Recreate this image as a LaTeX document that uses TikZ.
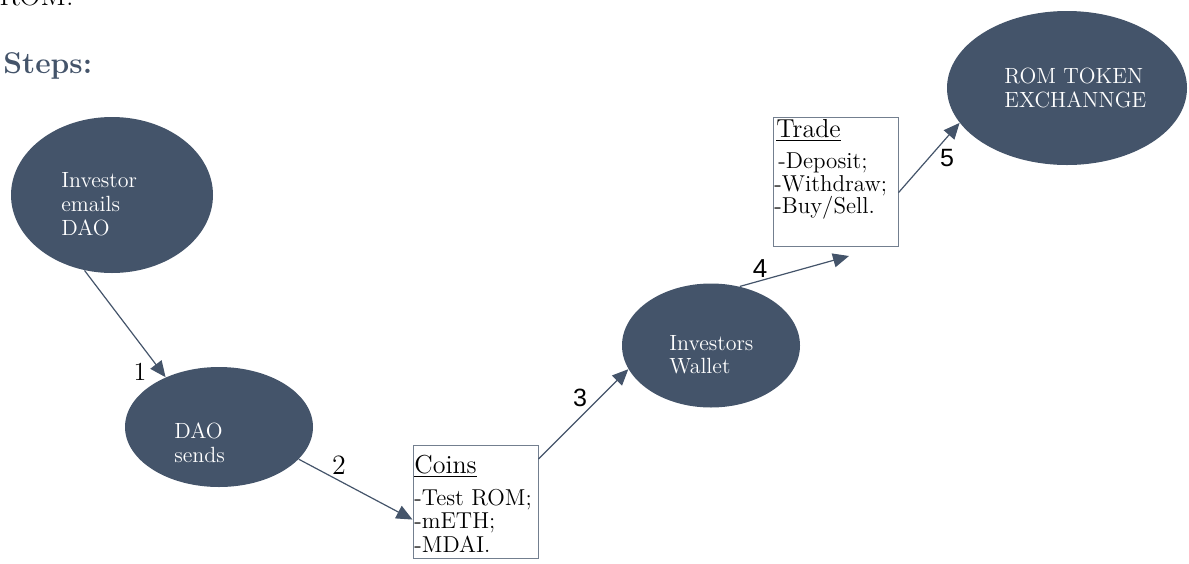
\documentclass[tikz,border=0pt]{standalone}
\usepackage{fontspec}
\newfontfamily\numfont{Liberation Sans}
\usetikzlibrary{shapes.geometric,arrows.meta}
\definecolor{slate}{HTML}{44546A}

\begin{document}
\begin{tikzpicture}[x=0.5pt,y=-0.5pt]
		\tikzset{blob/.style = {shape=ellipse, fill=slate, inner sep=0pt},
			blobtext/.style = {anchor=base west, inner sep=0pt, text=white, font=\fontsize{11}{13}\selectfont},
			listbox/.style = {shape=rectangle, draw=slate!75, line width=0.5pt, inner sep=0pt, minimum width=62.5pt},
			listhead/.style = {anchor=base west, inner sep=0pt, font=\fontsize{13}{15}\selectfont},
			listitem/.style = {anchor=base west, inner sep=0pt, font=\fontsize{11.5}{13}\selectfont},
			arr/.style = {draw=slate, line width=0.6pt, -{Triangle[length=8pt,width=7pt]}},
			steplabel/.style = {inner sep=0pt, font=\fontsize{13}{15}\selectfont}}

		\useasboundingbox (0,0) rectangle (1189,563);

		\node[anchor=base west, inner sep=0pt, font=\fontsize{15}{18}\selectfont] (rom_top) at (-1,5) {ROM.};
		\node[anchor=base west, inner sep=0pt, text=slate, font=\fontsize{15}{18}\selectfont\bfseries] (steps) at (3,73) {Steps:};

		\node[blob, minimum width=101pt, minimum height=78pt] (inv) at (112,195) {};
		\node[blob, minimum width=94pt, minimum height=60pt] (dao) at (219,427) {};
		\node[blob, minimum width=89pt, minimum height=62pt] (wallet) at (711,345.5) {};
		\node[blob, minimum width=120pt, minimum height=77pt] (rom) at (1067,88) {};

		\node[blobtext] (inv_1) at (61,187) {Investor};
		\node[blobtext] (inv_2) at (61,211) {emails};
		\node[blobtext] (inv_3) at (61,235) {DAO};
		\node[blobtext] (dao_1) at (174,438) {DAO};
		\node[blobtext] (dao_2) at (174,462) {sends};
		\node[blobtext] (wallet_1) at (669,350) {Investors};
		\node[blobtext] (wallet_2) at (669,373) {Wallet};
		\node[blobtext] (rom_1) at (1004,83) {ROM TOKEN};
		\node[blobtext] (rom_2) at (1004,107) {EXCHANNGE};

		\node[listbox, minimum height=56.5pt] (coins) at (475.5,501.5) {};
		\node[listhead] (coins_0) at (414,473) {\underline{Coins}};
		\node[listitem] (coins_1) at (414,505) {-Test ROM;};
		\node[listitem] (coins_2) at (414,528) {-mETH;};
		\node[listitem] (coins_3) at (414,552) {-MDAI.};

		\node[listbox, minimum height=64.5pt] (trade) at (835.5,181.5) {};
		\node[listhead] (trade_0) at (776,137) {\underline{Trade}};
		\node[listitem] (trade_1) at (778,168) {-Deposit;};
		\node[listitem] (trade_2) at (774,191) {-Withdraw;};
		\node[listitem] (trade_3) at (774,213) {-Buy/Sell.};

		\coordinate (free_4) at (849,256);

		\draw[arr] (inv.250) -- (dao.137);
		\draw[arr] (dao.338) -- (coins.196);
		\draw[arr] (coins.34) -- (wallet.196);
		\draw[arr] (wallet.64) -- (free_4);
		\draw[arr] (trade.-10) -- (rom.198);

		\node[steplabel] (n_1) at (140,372) {1};
		\node[steplabel, font=\fontsize{14}{16}\selectfont] (n_2) at (339,465) {2};
		\node[steplabel, font=\fontsize{12.5}{15}\selectfont\numfont] (n_3) at (580,398) {3};
		\node[steplabel, font=\fontsize{13}{15}\selectfont\numfont] (n_4) at (760,269) {4};
		\node[steplabel, font=\fontsize{12.5}{15}\selectfont\numfont] (n_5) at (947,158) {5};

	\end{tikzpicture}
\end{document}
